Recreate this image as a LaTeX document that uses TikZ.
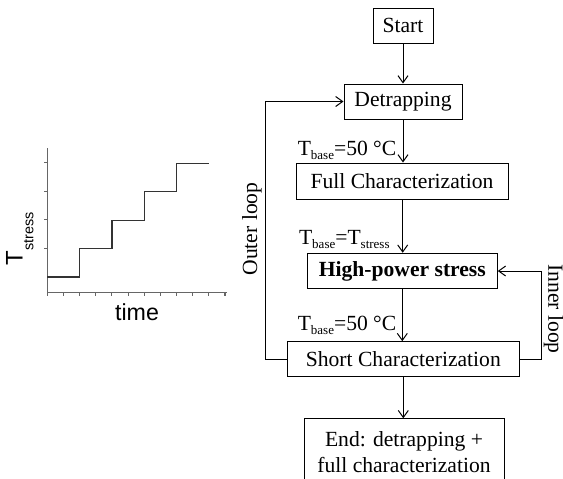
\documentclass[tikz,border=0pt]{standalone}
\usepackage{fontspec}
\setmainfont{Liberation Serif}
\newfontfamily\arialfont{Liberation Sans}
\usetikzlibrary{arrows.meta,calc}

\newcommand\tsub[1]{\raisebox{-2.2pt}{\fontsize{6.5}{7}\selectfont #1}}

\begin{document}
\begin{tikzpicture}[
  x=0.5pt,y=-0.5pt,
  font=\fontsize{10.8}{13.3}\selectfont,>={Straight Barb[length=3.5pt,width=5pt]},
  box/.style={draw,line width=0.5pt,inner sep=0pt,minimum height=17.5pt,align=center},
  lbl/.style={inner sep=0pt,anchor=base east},
  loop/.style={inner sep=0pt},
  ar/.style={->,line width=0.5pt},
  ax/.style={line width=0.55pt,black!60},
  stair/.style={line width=0.6pt,black!80}
]
\useasboundingbox (0,0) rectangle (563,478);
\clip (0,0) rectangle (563,478);

% ---- step plot : left ----
\draw[ax] (47.3,148.3) -- (47.3,292.7) -- (226.7,292.7);
\foreach \i in {0,...,11}
  \draw[ax] (47.3+16.15*\i,292.7) -- ++(0,3);
\foreach \y in {162.9,191.4,219.9,248.4}
  \draw[ax] (47.3,\y) -- ++(-3,0);
\draw[stair] (47.3,277) -- (79.6,277) -- (79.6,248.6) -- (111.9,248.6) -- (111.9,220.2)
  -- (144.2,220.2) -- (144.2,191.8) -- (176.5,191.8) -- (176.5,163.4) -- (208.8,163.4);
\node[inner sep=0pt,rotate=90,anchor=base west,font=\arialfont\fontsize{12}{13}\selectfont] (tax)
  at (22.7,266) {T\raisebox{-5.3pt}{\fontsize{7.2}{8}\selectfont stress}};
\node[inner sep=0pt,anchor=base,font=\arialfont\fontsize{11.6}{13}\selectfont] (time) at (137,320.7) {time};

% ---- flow chart : right ----
\node[box,minimum width=30pt] (start) at (403,25.5) {Start};
\node[box,minimum width=59pt] (detrap) at (403,101.5) {Detrapping};
\node[box,minimum width=106pt,minimum height=18pt] (full) at (402,181) {Full Characterization};
\node[box,minimum width=95pt,minimum height=17.75pt,font=\fontsize{10.8}{13.3}\selectfont\bfseries] (hps) at (402.3,271) {High-power stress};
\node[box,minimum width=116pt] (short) at (403.3,359.2) {Short Characterization};
\node[box,minimum width=100pt,minimum height=33.2pt,anchor=north] (final) at (404,418.3)
  {End: detrapping +\\ full characterization};

% temperature labels
\node[lbl] (t1) at (396.7,155) {T\tsub{base}=50 °C};
\node[lbl] (t2) at (390,244) {T\tsub{base}=T\tsub{stress}};
\node[lbl] (t3) at (396.7,330) {T\tsub{base}=50 °C};

% wires
\draw[ar] (start.south) -- (start.south |- detrap.north);
\draw[ar] (detrap.south) -- (detrap.south |- full.north);
\draw[ar] (full.south) ++(0.7,0) coordinate (fs) (fs) -- (fs |- hps.north);
\draw[ar] (hps.south) -- (hps.south |- short.north);
\draw[ar] (short.south) -- (short.south |- final.north);

% loops
\draw[ar] (short.west) -- ++(-21.3,0) coordinate (ol) |- (detrap.west);
\draw[ar] (short.east) -- ++(22,0) coordinate (il) |- (hps.east);
\node[loop,rotate=90] (outer) at (252,229) {Outer loop};
\node[loop,rotate=-90] (inner) at (553.5,309) {Inner loop};
\end{tikzpicture}
\end{document}
